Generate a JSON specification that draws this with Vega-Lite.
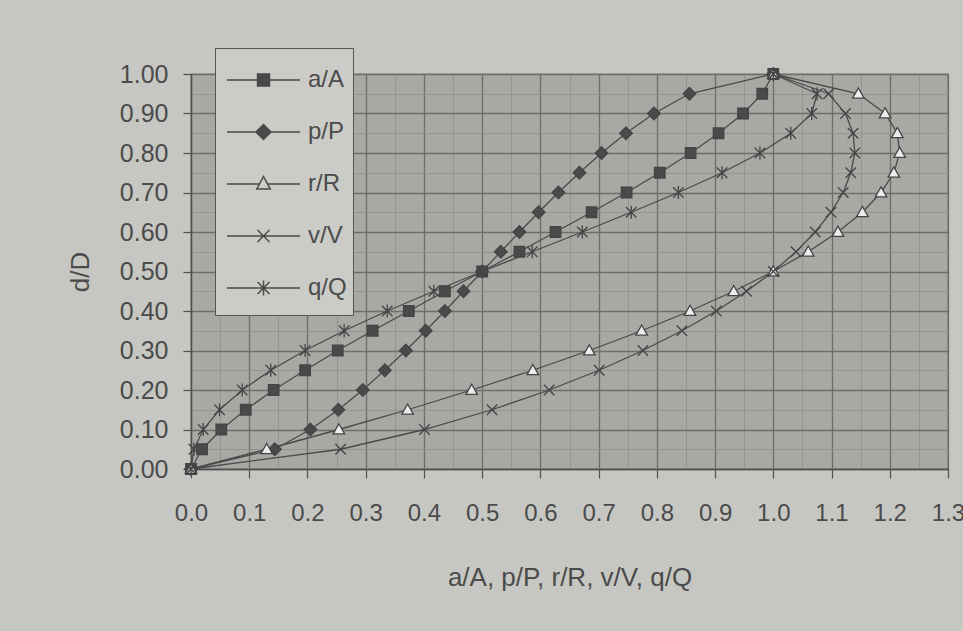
{
  "$schema": "https://vega.github.io/schema/vega-lite/v6.json",
  "autosize": {"type": "none"},
  "width": 757,
  "height": 395,
  "padding": {"left": 191, "top": 74, "right": 15, "bottom": 162},
  "background": "#c6c7c2",
  "config": {
    "view": {"fill": "#a6a9a4", "stroke": "#505050", "strokeWidth": 1.2},
    "font": "Liberation Sans"
  },
  "data": {
    "values": [
      {"d": 0.00, "s": "a/A", "v": 0.000}, {"d": 0.05, "s": "a/A", "v": 0.019}, {"d": 0.10, "s": "a/A", "v": 0.052}, {"d": 0.15, "s": "a/A", "v": 0.094}, {"d": 0.20, "s": "a/A", "v": 0.142}, {"d": 0.25, "s": "a/A", "v": 0.196}, {"d": 0.30, "s": "a/A", "v": 0.252}, {"d": 0.35, "s": "a/A", "v": 0.312}, {"d": 0.40, "s": "a/A", "v": 0.374}, {"d": 0.45, "s": "a/A", "v": 0.436}, {"d": 0.50, "s": "a/A", "v": 0.500}, {"d": 0.55, "s": "a/A", "v": 0.564}, {"d": 0.60, "s": "a/A", "v": 0.626}, {"d": 0.65, "s": "a/A", "v": 0.688}, {"d": 0.70, "s": "a/A", "v": 0.748}, {"d": 0.75, "s": "a/A", "v": 0.805}, {"d": 0.80, "s": "a/A", "v": 0.858}, {"d": 0.85, "s": "a/A", "v": 0.906}, {"d": 0.90, "s": "a/A", "v": 0.948}, {"d": 0.95, "s": "a/A", "v": 0.981}, {"d": 1.00, "s": "a/A", "v": 1.000},
      {"d": 0.00, "s": "p/P", "v": 0.000}, {"d": 0.05, "s": "p/P", "v": 0.144}, {"d": 0.10, "s": "p/P", "v": 0.205}, {"d": 0.15, "s": "p/P", "v": 0.253}, {"d": 0.20, "s": "p/P", "v": 0.295}, {"d": 0.25, "s": "p/P", "v": 0.333}, {"d": 0.30, "s": "p/P", "v": 0.369}, {"d": 0.35, "s": "p/P", "v": 0.403}, {"d": 0.40, "s": "p/P", "v": 0.436}, {"d": 0.45, "s": "p/P", "v": 0.468}, {"d": 0.50, "s": "p/P", "v": 0.500}, {"d": 0.55, "s": "p/P", "v": 0.532}, {"d": 0.60, "s": "p/P", "v": 0.564}, {"d": 0.65, "s": "p/P", "v": 0.597}, {"d": 0.70, "s": "p/P", "v": 0.631}, {"d": 0.75, "s": "p/P", "v": 0.667}, {"d": 0.80, "s": "p/P", "v": 0.705}, {"d": 0.85, "s": "p/P", "v": 0.747}, {"d": 0.90, "s": "p/P", "v": 0.795}, {"d": 0.95, "s": "p/P", "v": 0.856}, {"d": 1.00, "s": "p/P", "v": 1.000},
      {"d": 0.00, "s": "r/R", "v": 0.000}, {"d": 0.05, "s": "r/R", "v": 0.130}, {"d": 0.10, "s": "r/R", "v": 0.254}, {"d": 0.15, "s": "r/R", "v": 0.372}, {"d": 0.20, "s": "r/R", "v": 0.482}, {"d": 0.25, "s": "r/R", "v": 0.587}, {"d": 0.30, "s": "r/R", "v": 0.684}, {"d": 0.35, "s": "r/R", "v": 0.774}, {"d": 0.40, "s": "r/R", "v": 0.857}, {"d": 0.45, "s": "r/R", "v": 0.932}, {"d": 0.50, "s": "r/R", "v": 1.000}, {"d": 0.55, "s": "r/R", "v": 1.060}, {"d": 0.60, "s": "r/R", "v": 1.111}, {"d": 0.65, "s": "r/R", "v": 1.153}, {"d": 0.70, "s": "r/R", "v": 1.185}, {"d": 0.75, "s": "r/R", "v": 1.207}, {"d": 0.80, "s": "r/R", "v": 1.217}, {"d": 0.85, "s": "r/R", "v": 1.213}, {"d": 0.90, "s": "r/R", "v": 1.192}, {"d": 0.95, "s": "r/R", "v": 1.146}, {"d": 1.00, "s": "r/R", "v": 1.000},
      {"d": 0.00, "s": "v/V", "v": 0.000}, {"d": 0.05, "s": "v/V", "v": 0.257}, {"d": 0.10, "s": "v/V", "v": 0.401}, {"d": 0.15, "s": "v/V", "v": 0.517}, {"d": 0.20, "s": "v/V", "v": 0.615}, {"d": 0.25, "s": "v/V", "v": 0.701}, {"d": 0.30, "s": "v/V", "v": 0.776}, {"d": 0.35, "s": "v/V", "v": 0.843}, {"d": 0.40, "s": "v/V", "v": 0.902}, {"d": 0.45, "s": "v/V", "v": 0.954}, {"d": 0.50, "s": "v/V", "v": 1.000}, {"d": 0.55, "s": "v/V", "v": 1.039}, {"d": 0.60, "s": "v/V", "v": 1.072}, {"d": 0.65, "s": "v/V", "v": 1.099}, {"d": 0.70, "s": "v/V", "v": 1.120}, {"d": 0.75, "s": "v/V", "v": 1.133}, {"d": 0.80, "s": "v/V", "v": 1.140}, {"d": 0.85, "s": "v/V", "v": 1.137}, {"d": 0.90, "s": "v/V", "v": 1.124}, {"d": 0.95, "s": "v/V", "v": 1.095}, {"d": 1.00, "s": "v/V", "v": 1.000},
      {"d": 0.00, "s": "q/Q", "v": 0.000}, {"d": 0.05, "s": "q/Q", "v": 0.005}, {"d": 0.10, "s": "q/Q", "v": 0.021}, {"d": 0.15, "s": "q/Q", "v": 0.049}, {"d": 0.20, "s": "q/Q", "v": 0.088}, {"d": 0.25, "s": "q/Q", "v": 0.137}, {"d": 0.30, "s": "q/Q", "v": 0.196}, {"d": 0.35, "s": "q/Q", "v": 0.263}, {"d": 0.40, "s": "q/Q", "v": 0.337}, {"d": 0.45, "s": "q/Q", "v": 0.417}, {"d": 0.50, "s": "q/Q", "v": 0.500}, {"d": 0.55, "s": "q/Q", "v": 0.586}, {"d": 0.60, "s": "q/Q", "v": 0.672}, {"d": 0.65, "s": "q/Q", "v": 0.756}, {"d": 0.70, "s": "q/Q", "v": 0.837}, {"d": 0.75, "s": "q/Q", "v": 0.912}, {"d": 0.80, "s": "q/Q", "v": 0.977}, {"d": 0.85, "s": "q/Q", "v": 1.030}, {"d": 0.90, "s": "q/Q", "v": 1.066}, {"d": 0.95, "s": "q/Q", "v": 1.075}, {"d": 1.00, "s": "q/Q", "v": 1.000}
    ]
  },
  "encoding": {
    "x": {
      "field": "v", "type": "quantitative",
      "scale": {"domain": [0, 1.3], "nice": false, "zero": false},
      "axis": {
        "title": "a/A, p/P, r/R, v/V, q/Q",
        "values": [0, 0.05, 0.1, 0.15, 0.2, 0.25, 0.3, 0.35, 0.4, 0.45, 0.5, 0.55, 0.6, 0.65, 0.7, 0.75, 0.8, 0.85, 0.9, 0.95, 1.0, 1.05, 1.1, 1.15, 1.2, 1.25, 1.3],
        "labelExpr": "round(datum.value*100) % 10 === 0 ? format(datum.value, '.1f') : ''",
        "labelFont": "Liberation Sans", "labelFontSize": 24, "labelColor": "#4b4b4b",
        "labelPadding": 23, "labelOverlap": false, "labelFlush": false,
        "tickSize": 9, "tickColor": "#505050", "tickWidth": 1.2,
        "tickOpacity": {"condition": {"test": "round(datum.value*100) % 10 === 0", "value": 1}, "value": 0},
        "domainColor": "#505050", "domainWidth": 1.4,
        "grid": true,
        "gridColor": {"condition": {"test": "round(datum.value*100) % 10 === 0", "value": "#6c6f6a"}, "value": "#8e918c"},
        "gridWidth": {"condition": {"test": "round(datum.value*100) % 10 === 0", "value": 1.3}, "value": 0.8},
        "titleFont": "Liberation Sans", "titleFontSize": 26, "titleFontWeight": "normal", "titleColor": "#4b4b4b",
        "titlePadding": 39
      }
    },
    "y": {
      "field": "d", "type": "quantitative",
      "scale": {"domain": [0, 1], "nice": false},
      "axis": {
        "title": "d/D",
        "values": [0, 0.05, 0.1, 0.15, 0.2, 0.25, 0.3, 0.35, 0.4, 0.45, 0.5, 0.55, 0.6, 0.65, 0.7, 0.75, 0.8, 0.85, 0.9, 0.95, 1.0],
        "labelExpr": "round(datum.value*100) % 10 === 0 ? format(datum.value, '.2f') : ''",
        "labelFont": "Liberation Sans", "labelFontSize": 25, "labelColor": "#4b4b4b",
        "labelPadding": 15, "labelOverlap": false, "labelFlush": false,
        "tickSize": 8, "tickColor": "#505050", "tickWidth": 1.2,
        "tickOpacity": {"condition": {"test": "round(datum.value*100) % 10 === 0", "value": 1}, "value": 0},
        "domainColor": "#505050", "domainWidth": 1.4,
        "grid": true,
        "gridColor": {"condition": {"test": "round(datum.value*100) % 10 === 0", "value": "#6c6f6a"}, "value": "#8e918c"},
        "gridWidth": {"condition": {"test": "round(datum.value*100) % 10 === 0", "value": 1.3}, "value": 0.8},
        "titleFont": "Liberation Sans", "titleFontSize": 26, "titleFontWeight": "normal", "titleColor": "#4b4b4b",
        "titlePadding": 26
      }
    }
  },
  "layer": [
    {
      "mark": {"type": "line", "stroke": "#4a4a4a", "strokeWidth": 1.3},
      "encoding": {
        "detail": {"field": "s", "type": "nominal"},
        "order": {"field": "d", "type": "quantitative"}
      }
    },
    {
      "mark": {"type": "point", "filled": true, "stroke": "#444444", "strokeWidth": 1.3, "size": 110, "opacity": 1},
      "encoding": {
        "shape": {
          "field": "s", "type": "nominal",
          "scale": {
            "domain": ["a/A", "p/P", "r/R", "v/V", "q/Q"],
            "range": [
              "M-1,-1H1V1H-1Z",
              "M0,-1.2L1.2,0L0,1.2L-1.2,0Z",
              "M0,-1.1L1.1,0.85H-1.1Z",
              "M-1,-1L1,1M-1,1L1,-1",
              "M-1,-1L1,1M-1,1L1,-1M0,-1.25V1.25"
            ]
          },
          "legend": null
        },
        "fill": {
          "field": "s", "type": "nominal",
          "scale": {"domain": ["a/A", "p/P", "r/R", "v/V", "q/Q"], "range": ["#4a4a4a", "#4a4a4a", "#ececec", "#4a4a4a", "#4a4a4a"]},
          "legend": null
        }
      }
    },
    {
      "transform": [{"filter": "datum.d > 5"}],
      "mark": {"type": "point", "filled": true, "color": "#4a4a4a", "fill": "#4a4a4a", "stroke": "#4a4a4a", "strokeWidth": 1.5, "size": 2500, "opacity": 1},
      "encoding": {
        "shape": {
          "field": "s", "type": "nominal",
          "scale": {
            "domain": ["a/A", "p/P", "r/R", "v/V", "q/Q"],
            "range": [
              "M0,-0.7M0,0.7M-0.8,0H0.42M0.9,0H2.12M0.42,-0.24H0.9V0.24H0.42Z",
              "M0,-0.7M0,0.7M-0.8,0H0.36M0.96,0H2.12M0.66,-0.3L0.96,0L0.66,0.3L0.36,0Z",
              "M0,-0.7M0,0.7M-0.8,0H0.5M0.82,0H2.12M0.66,-0.3L0.93,0.2L0.39,0.2ZM0.66,-0.3L0.39,0.2L0.93,0.2Z",
              "M0,-0.7M0,0.7M-0.8,0H2.12M0.42,-0.24L0.9,0.24M0.42,0.24L0.9,-0.24",
              "M0,-0.7M0,0.7M-0.8,0H2.12M0.42,-0.24L0.9,0.24M0.42,0.24L0.9,-0.24M0.66,-0.3V0.3"
            ]
          },
          "legend": {
            "orient": "none", "legendX": 24, "legendY": -26,
            "title": null,
            "symbolSize": 2500, "rowPadding": 5,
            "labelFont": "Liberation Sans", "labelFontSize": 24, "labelColor": "#4b4b4b",
            "labelOffset": 35,
            "padding": 6,
            "fillColor": "#cbccc7", "strokeColor": "#555555",
            "encode": {
              "symbols": {
                "update": {
                  "stroke": {"value": "#4a4a4a"},
                  "strokeWidth": {"value": 1.5},
                  "opacity": {"value": 1}
                }
              }
            }
          }
        }
      }
    }
  ],
  "resolve": {"scale": {"shape": "independent"}, "legend": {"shape": "independent"}}
}
